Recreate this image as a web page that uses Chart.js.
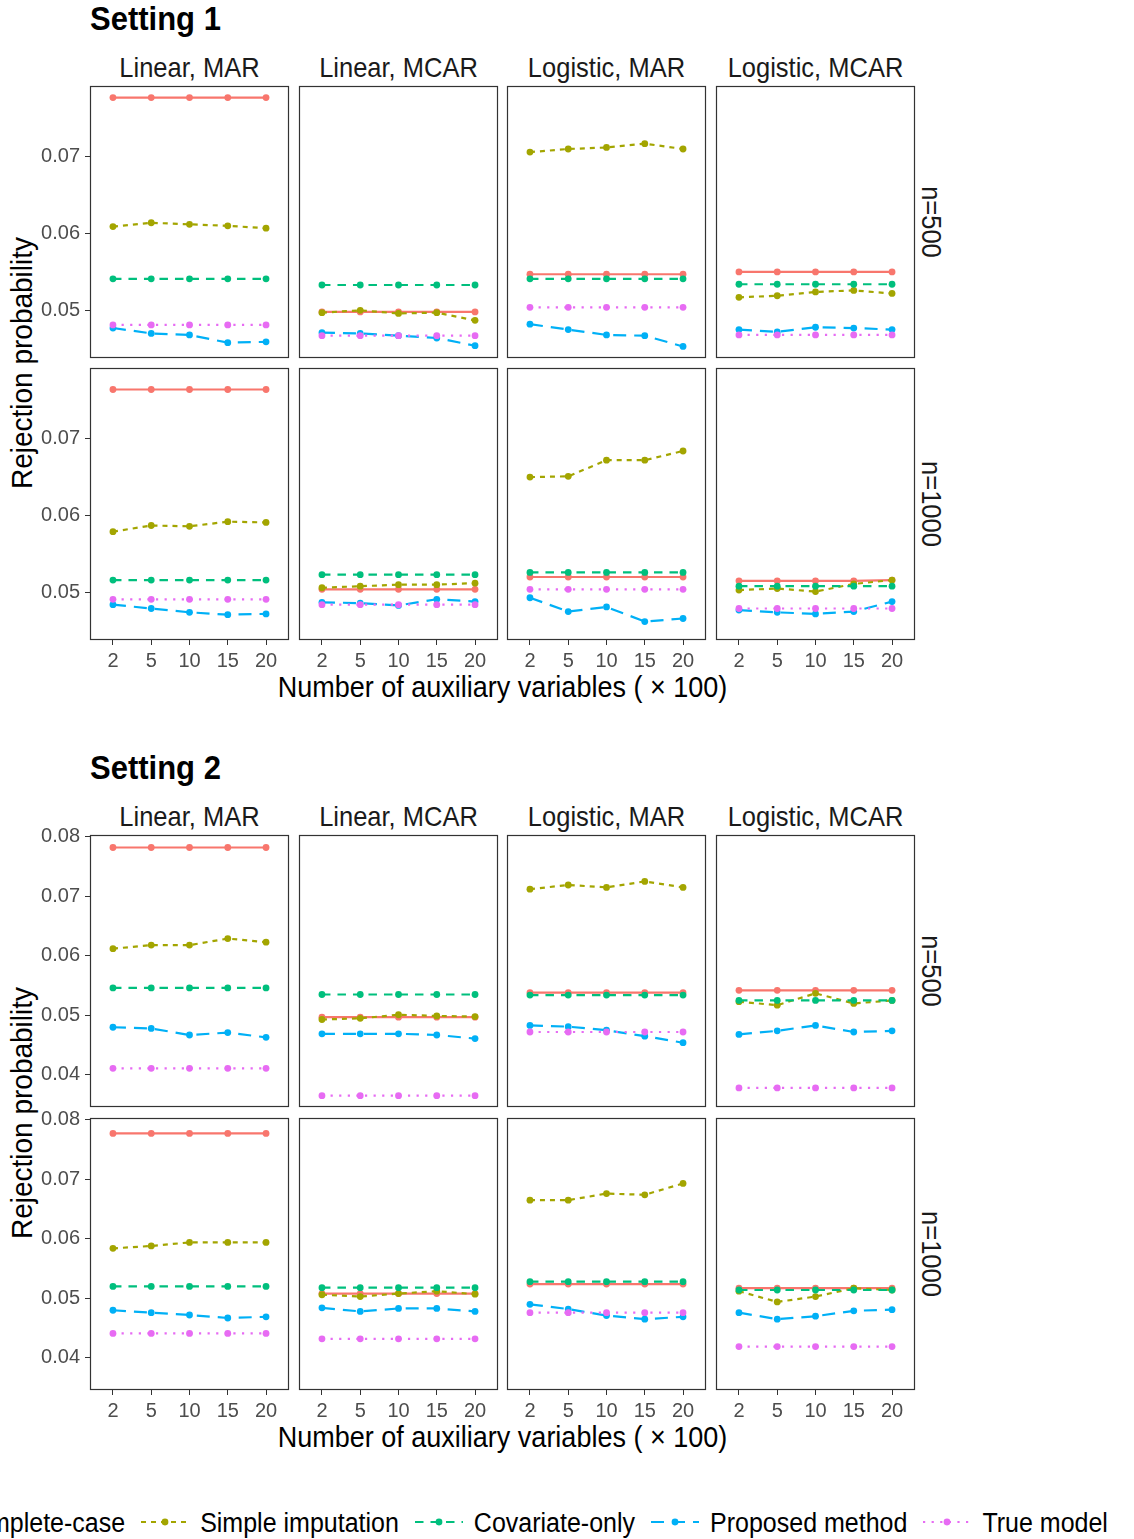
<!DOCTYPE html>
<html>
<head>
<meta charset="utf-8">
<script src="https://cdn.jsdelivr.net/npm/chart.js@4.4.1/dist/chart.umd.min.js"></script>
<style>
  body { margin: 0; background: #fff; }
  #page { position: relative; width: 1134px; height: 1539px; overflow: hidden; background: #fff;
          font-family: "Liberation Sans", Arial, sans-serif; }
  #page canvas { position: absolute; }
  .txt { position: absolute; white-space: nowrap; line-height: 1; }
  #legend { position: absolute; left: -102px; top: 1507px; height: 30px; display: flex; align-items: center;
            font-size: 25px; color: #000; white-space: nowrap; }
  #legend .key { margin-right: 11px; }
  #legend .name { margin-right: 16px; }
</style>
</head>
<body>
<div id="page">
  <div id="legend"></div>
</div>
<script>
// categories and tick labels
const xLabels = ["2", "5", "10", "15", "20"];
const seriesNames = ["Complete-case", "Simple imputation", "Covariate-only", "Proposed method", "True model"];
const facetCols = ["Linear, MAR", "Linear, MCAR", "Logistic, MAR", "Logistic, MCAR"];
const facetRows = ["n=500", "n=1000"];
const yTicksS1 = [0.05, 0.06, 0.07];
const yTicksS2 = [0.04, 0.05, 0.06, 0.07, 0.08];
const yRangeS1 = [0.0438, 0.0792];
const yRangeS2 = [0.0346, 0.0803];

// rejection probabilities, one row per series (same order as seriesNames)
// Setting 1, n=500
const s1n500LinMAR = [
  [0.0777, 0.0777, 0.0777, 0.0777, 0.0777],
  [0.0609, 0.0614, 0.0612, 0.0610, 0.0607],
  [0.0541, 0.0541, 0.0541, 0.0541, 0.0541],
  [0.0477, 0.0470, 0.0468, 0.0458, 0.0459],
  [0.0481, 0.0481, 0.0481, 0.0481, 0.0481]
];
const s1n500LinMCAR = [
  [0.0498, 0.0498, 0.0498, 0.0498, 0.0498],
  [0.0497, 0.0500, 0.0496, 0.0497, 0.0487],
  [0.0533, 0.0533, 0.0533, 0.0533, 0.0533],
  [0.0471, 0.0470, 0.0467, 0.0464, 0.0454],
  [0.0467, 0.0467, 0.0467, 0.0467, 0.0467]
];
const s1n500LogMAR = [
  [0.0547, 0.0547, 0.0547, 0.0547, 0.0547],
  [0.0706, 0.0710, 0.0712, 0.0717, 0.0710],
  [0.0541, 0.0541, 0.0541, 0.0541, 0.0541],
  [0.0482, 0.0475, 0.0468, 0.0467, 0.0453],
  [0.0504, 0.0504, 0.0504, 0.0504, 0.0504]
];
const s1n500LogMCAR = [
  [0.0550, 0.0550, 0.0550, 0.0550, 0.0550],
  [0.0517, 0.0519, 0.0524, 0.0526, 0.0522],
  [0.0534, 0.0534, 0.0534, 0.0534, 0.0534],
  [0.0475, 0.0472, 0.0478, 0.0477, 0.0475],
  [0.0468, 0.0468, 0.0468, 0.0468, 0.0468]
];
// Setting 1, n=1000
const s1n1000LinMAR = [
  [0.0764, 0.0764, 0.0764, 0.0764, 0.0764],
  [0.0579, 0.0587, 0.0586, 0.0592, 0.0591],
  [0.0516, 0.0516, 0.0516, 0.0516, 0.0516],
  [0.0484, 0.0479, 0.0474, 0.0471, 0.0472],
  [0.0491, 0.0491, 0.0491, 0.0491, 0.0491]
];
const s1n1000LinMCAR = [
  [0.0504, 0.0504, 0.0504, 0.0504, 0.0504],
  [0.0506, 0.0508, 0.0510, 0.0510, 0.0512],
  [0.0523, 0.0523, 0.0523, 0.0523, 0.0523],
  [0.0487, 0.0486, 0.0483, 0.0491, 0.0488],
  [0.0484, 0.0484, 0.0484, 0.0484, 0.0484]
];
const s1n1000LogMAR = [
  [0.0520, 0.0520, 0.0520, 0.0520, 0.0520],
  [0.0650, 0.0651, 0.0672, 0.0672, 0.0684],
  [0.0526, 0.0526, 0.0526, 0.0526, 0.0526],
  [0.0493, 0.0475, 0.0481, 0.0462, 0.0466],
  [0.0504, 0.0504, 0.0504, 0.0504, 0.0504]
];
const s1n1000LogMCAR = [
  [0.0515, 0.0515, 0.0515, 0.0515, 0.0516],
  [0.0503, 0.0505, 0.0501, 0.0511, 0.0516],
  [0.0508, 0.0508, 0.0508, 0.0508, 0.0508],
  [0.0477, 0.0474, 0.0472, 0.0475, 0.0488],
  [0.0479, 0.0479, 0.0479, 0.0479, 0.0479]
];
// Setting 2, n=500
const s2n500LinMAR = [
  [0.0782, 0.0782, 0.0782, 0.0782, 0.0782],
  [0.0612, 0.0618, 0.0618, 0.0629, 0.0623],
  [0.0546, 0.0546, 0.0546, 0.0546, 0.0546],
  [0.0480, 0.0478, 0.0467, 0.0471, 0.0463],
  [0.0411, 0.0411, 0.0411, 0.0411, 0.0411]
];
const s2n500LinMCAR = [
  [0.0497, 0.0497, 0.0497, 0.0497, 0.0497],
  [0.0493, 0.0495, 0.0501, 0.0499, 0.0498],
  [0.0535, 0.0535, 0.0535, 0.0535, 0.0535],
  [0.0469, 0.0469, 0.0469, 0.0467, 0.0461],
  [0.0365, 0.0365, 0.0365, 0.0365, 0.0365]
];
const s2n500LogMAR = [
  [0.0538, 0.0538, 0.0538, 0.0538, 0.0538],
  [0.0712, 0.0719, 0.0715, 0.0725, 0.0715],
  [0.0534, 0.0534, 0.0534, 0.0534, 0.0534],
  [0.0483, 0.0481, 0.0475, 0.0465, 0.0454],
  [0.0472, 0.0472, 0.0472, 0.0472, 0.0472]
];
const s2n500LogMCAR = [
  [0.0542, 0.0542, 0.0542, 0.0542, 0.0542],
  [0.0523, 0.0517, 0.0537, 0.0520, 0.0525],
  [0.0525, 0.0525, 0.0525, 0.0525, 0.0525],
  [0.0468, 0.0474, 0.0483, 0.0472, 0.0474],
  [0.0378, 0.0378, 0.0378, 0.0378, 0.0378]
];
// Setting 2, n=1000
const s2n1000LinMAR = [
  [0.0777, 0.0777, 0.0777, 0.0777, 0.0777],
  [0.0584, 0.0588, 0.0594, 0.0594, 0.0594],
  [0.0520, 0.0520, 0.0520, 0.0520, 0.0520],
  [0.0480, 0.0476, 0.0472, 0.0467, 0.0469],
  [0.0441, 0.0441, 0.0441, 0.0441, 0.0441]
];
const s2n1000LinMCAR = [
  [0.0508, 0.0508, 0.0508, 0.0508, 0.0508],
  [0.0506, 0.0503, 0.0508, 0.0512, 0.0507],
  [0.0518, 0.0518, 0.0518, 0.0518, 0.0518],
  [0.0484, 0.0478, 0.0483, 0.0483, 0.0478],
  [0.0432, 0.0432, 0.0432, 0.0432, 0.0432]
];
const s2n1000LogMAR = [
  [0.0524, 0.0524, 0.0524, 0.0524, 0.0524],
  [0.0665, 0.0665, 0.0676, 0.0674, 0.0693],
  [0.0528, 0.0528, 0.0528, 0.0528, 0.0528],
  [0.0490, 0.0482, 0.0471, 0.0465, 0.0469],
  [0.0476, 0.0476, 0.0476, 0.0476, 0.0476]
];
const s2n1000LogMCAR = [
  [0.0517, 0.0517, 0.0517, 0.0517, 0.0517],
  [0.0512, 0.0494, 0.0503, 0.0517, 0.0514],
  [0.0514, 0.0514, 0.0514, 0.0514, 0.0514],
  [0.0476, 0.0465, 0.0470, 0.0479, 0.0481],
  [0.0419, 0.0419, 0.0419, 0.0419, 0.0419]
];

// styles
const seriesColors = ["#F8766D", "#A3A500", "#00BF7D", "#00B0F6", "#E76BF3"];
const seriesDash = [[], [5, 5], [8.5, 7], [13, 8], [2.2, 6.4]];
const FONT = "'Liberation Sans', Arial, sans-serif";
Chart.defaults.font.family = FONT;

// layout (px)
const colLeft = [90, 299, 507, 716];
const PW = 199, PH = 272;
const AXW = 60, AXH = 34, PADT = 30, PADR = 4;

const settings = [
  { title: "Setting 1", rowTop: [86, 368], yTicks: yTicksS1, yRange: yRangeS1,
    panels: [[s1n500LinMAR, s1n500LinMCAR, s1n500LogMAR, s1n500LogMCAR],
             [s1n1000LinMAR, s1n1000LinMCAR, s1n1000LogMAR, s1n1000LogMCAR]] },
  { title: "Setting 2", rowTop: [835, 1118], yTicks: yTicksS2, yRange: yRangeS2,
    panels: [[s2n500LinMAR, s2n500LinMCAR, s2n500LogMAR, s2n500LogMCAR],
             [s2n1000LinMAR, s2n1000LinMCAR, s2n1000LogMAR, s2n1000LogMCAR]] }
];

const page = document.getElementById("page");

const panelBorder = {
  id: "panelBorder",
  afterDraw(chart) {
    const a = chart.chartArea, c = chart.ctx;
    c.save();
    c.strokeStyle = "#333333";
    c.lineWidth = 1.2;
    c.strokeRect(a.left + 0.5, a.top + 0.5, a.right - a.left - 1, a.bottom - a.top - 1);
    c.restore();
  }
};

function addText(str, x, y, css) {
  const d = document.createElement("div");
  d.className = "txt";
  d.textContent = str;
  d.style.left = x + "px";
  d.style.top = y + "px";
  Object.assign(d.style, css);
  page.appendChild(d);
}

function makePanel(values, s, row, col) {
  const canvas = document.createElement("canvas");
  canvas.width = AXW + PW + PADR;
  canvas.height = PADT + PH + AXH;
  canvas.style.left = (colLeft[col] - AXW) + "px";
  canvas.style.top = (s.rowTop[row] - PADT) + "px";
  page.appendChild(canvas);

  const showY = col === 0;
  const showX = row === 1;
  const tickFont = { family: FONT, size: 20 };

  new Chart(canvas.getContext("2d"), {
    type: "line",
    data: {
      datasets: seriesNames.map((name, k) => ({
        label: name,
        data: values[k].map((v, i) => ({ x: i, y: v })),
        borderColor: seriesColors[k],
        backgroundColor: seriesColors[k],
        pointBackgroundColor: seriesColors[k],
        borderWidth: 2.2,
        borderDash: seriesDash[k],
        pointRadius: 3.4,
        pointBorderWidth: 0,
        tension: 0,
        order: seriesNames.length - k
      }))
    },
    options: {
      responsive: false,
      animation: false,
      devicePixelRatio: 1,
      layout: { padding: { top: PADT, right: PADR, bottom: 0, left: 0 } },
      plugins: { legend: { display: false }, tooltip: { enabled: false } },
      scales: {
        x: {
          type: "linear",
          min: -0.6,
          max: xLabels.length - 0.4,
          afterBuildTicks: (sc) => { sc.ticks = xLabels.map((_, i) => ({ value: i })); },
          afterFit: (sc) => { sc.height = AXH; sc.paddingLeft = 0; sc.paddingRight = 0; },
          border: { display: false },
          grid: { display: showX, drawOnChartArea: false, drawTicks: true, tickLength: 5, color: "#333333", lineWidth: 1 },
          ticks: { display: showX, autoSkip: false, maxRotation: 0, padding: 4, color: "#4D4D4D", font: tickFont,
                   callback: (v) => xLabels[v] }
        },
        y: {
          type: "linear",
          min: s.yRange[0],
          max: s.yRange[1],
          afterBuildTicks: (sc) => { sc.ticks = s.yTicks.map((v) => ({ value: v })); },
          afterFit: (sc) => { sc.width = AXW; sc.paddingTop = 0; sc.paddingBottom = 0; },
          border: { display: false },
          grid: { display: showY, drawOnChartArea: false, drawTicks: true, tickLength: 5, color: "#333333", lineWidth: 1 },
          ticks: { display: showY, autoSkip: false, padding: 5, color: "#4D4D4D", font: tickFont,
                   callback: (v) => v.toFixed(2) }
        }
      }
    },
    plugins: [panelBorder]
  });
}

settings.forEach((s) => {
  const top = s.rowTop[0];
  const bottom = s.rowTop[1] + PH;
  addText(s.title, colLeft[0], top - 67,
    { fontSize: "31px", fontWeight: "bold", color: "#000", transform: "translate(0,-50%) scaleY(1.08)" });
  facetCols.forEach((name, c) => {
    addText(name, colLeft[c] + PW / 2, top - 18,
      { fontSize: "25.5px", color: "#1A1A1A", transform: "translate(-50%,-50%) scaleY(1.08)" });
  });
  facetRows.forEach((name, r) => {
    addText(name, colLeft[3] + PW + 16, s.rowTop[r] + PH / 2,
      { fontSize: "25.5px", color: "#1A1A1A", transform: "translate(-50%,-50%) rotate(90deg) scaleY(1.08)" });
  });
  addText("Number of auxiliary variables ( \u00d7 100)", (colLeft[0] + colLeft[3] + PW) / 2, bottom + 48,
    { fontSize: "27px", color: "#000", transform: "translate(-50%,-50%) scaleY(1.08)" });
  addText("Rejection probability", 22, (top + bottom) / 2,
    { fontSize: "28px", color: "#000", transform: "translate(-50%,-50%) rotate(-90deg) scaleY(1.08)" });
  s.panels.forEach((rowVals, r) => rowVals.forEach((vals, c) => makePanel(vals, s, r, c)));
});

// legend
const legend = document.getElementById("legend");
seriesNames.forEach((name, k) => {
  const dash = seriesDash[k].length ? seriesDash[k].join(" ") : "none";
  const key = document.createElementNS("http://www.w3.org/2000/svg", "svg");
  key.setAttribute("class", "key");
  key.setAttribute("width", "48");
  key.setAttribute("height", "30");
  key.innerHTML =
    '<line x1="0" y1="15" x2="48" y2="15" stroke="' + seriesColors[k] + '" stroke-width="2.2" stroke-dasharray="' + dash + '"/>' +
    '<circle cx="24" cy="15" r="3.4" fill="' + seriesColors[k] + '"/>';
  const span = document.createElement("span");
  span.className = "name";
  span.textContent = name;
  span.style.display = "inline-block";
  span.style.transform = "scaleY(1.08)";
  legend.appendChild(key);
  legend.appendChild(span);
});
</script>
</body>
</html>
